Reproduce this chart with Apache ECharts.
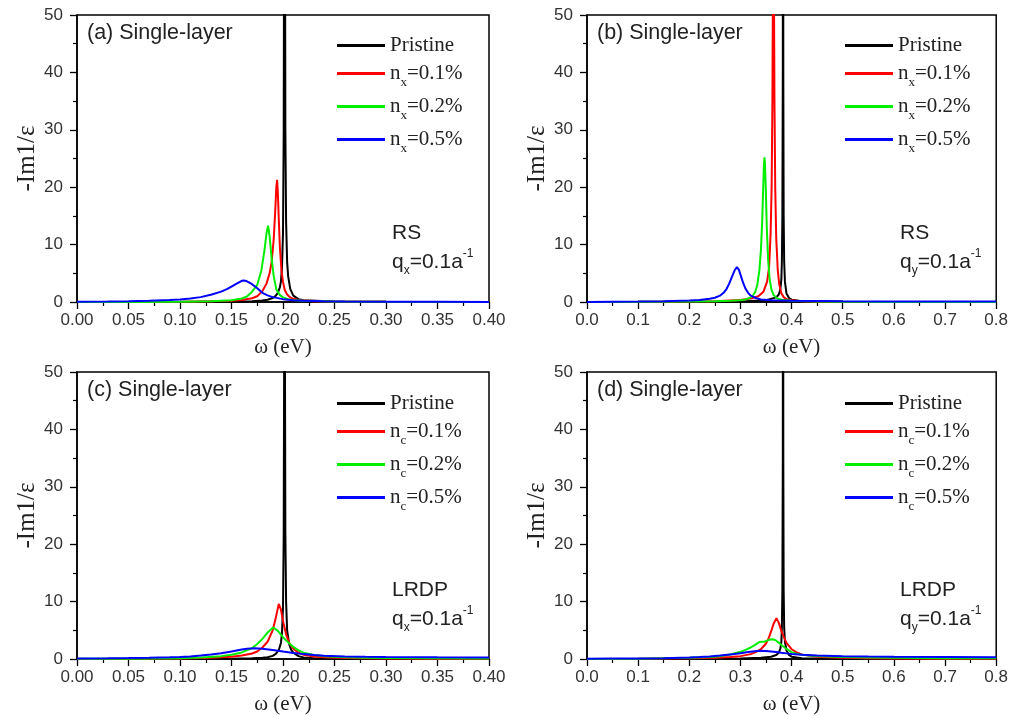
<!DOCTYPE html>
<html><head><meta charset="utf-8">
<script src="https://cdn.jsdelivr.net/npm/echarts@6/dist/echarts.min.js"></script>
<style>html,body{margin:0;padding:0;background:#fff}#c{width:1011px;height:716px}</style>
</head><body><div id="c"></div>
<script>
// ---------- data ----------
const namesXY = ['Pristine', 'n_x=0.1%', 'n_x=0.2%', 'n_x=0.5%'];
const namesC  = ['Pristine', 'n_c=0.1%', 'n_c=0.2%', 'n_c=0.5%'];
const panelTitles = ['(a) Single-layer', '(b) Single-layer', '(c) Single-layer', '(d) Single-layer'];
const panelModels = ['RS', 'RS', 'LRDP', 'LRDP'];
const panelQ = ['x', 'y', 'x', 'y'];

// (a) RS, q_x
const a_pristine = [[0,0],[0.1,0.02],[0.15,0.08],[0.17,0.15],[0.18,0.25],[0.185,0.4],[0.19,0.7],[0.193,1.1],[0.195,1.6],[0.197,2.6],[0.198,3.6],[0.199,6],[0.2,12],[0.2007,30],[0.2012,80],[0.2015,120],[0.2018,80],[0.2023,30],[0.203,14],[0.204,7],[0.205,4.5],[0.207,2.3],[0.21,1.1],[0.215,0.5],[0.22,0.3],[0.25,0.1],[0.3,0.03],[0.4,0.01]];
const a_n01 = [[0,0.01],[0.05,0.02],[0.1,0.05],[0.13,0.12],[0.15,0.22],[0.16,0.35],[0.17,0.65],[0.175,1.0],[0.18,1.9],[0.184,3.2],[0.187,5.0],[0.189,7.0],[0.191,11],[0.1925,16],[0.1935,20],[0.1943,21.3],[0.195,19],[0.196,14],[0.197,9.5],[0.1985,5.5],[0.2,3.5],[0.2017,2.1],[0.204,1.3],[0.207,0.8],[0.21,0.55],[0.215,0.35],[0.22,0.25],[0.23,0.15],[0.25,0.08],[0.3,0.03],[0.4,0.01]];
const a_n02 = [[0,0.01],[0.05,0.02],[0.1,0.05],[0.13,0.12],[0.15,0.3],[0.16,0.6],[0.165,0.95],[0.17,1.8],[0.175,3.0],[0.179,5.5],[0.182,9],[0.184,12],[0.1855,13.3],[0.187,11.5],[0.189,7.5],[0.191,4.5],[0.1935,2.2],[0.197,1.2],[0.2,0.8],[0.205,0.5],[0.21,0.35],[0.22,0.2],[0.25,0.08],[0.3,0.03],[0.4,0.01]];
const a_n05 = [[0,0.05],[0.03,0.1],[0.05,0.15],[0.07,0.22],[0.09,0.35],[0.1,0.45],[0.11,0.6],[0.12,0.85],[0.13,1.25],[0.14,1.8],[0.145,2.2],[0.15,2.7],[0.155,3.2],[0.16,3.7],[0.162,3.75],[0.165,3.6],[0.17,3.1],[0.175,2.4],[0.18,1.6],[0.185,1.15],[0.19,0.85],[0.2,0.5],[0.21,0.32],[0.22,0.22],[0.24,0.13],[0.26,0.08],[0.3,0.05],[0.35,0.03],[0.4,0.02]];

// (b) RS, q_y
const b_pristine = [[0,0],[0.2,0.03],[0.3,0.1],[0.35,0.3],[0.37,0.8],[0.375,1.3],[0.378,2.2],[0.38,4],[0.381,7],[0.382,15],[0.3828,40],[0.3833,120],[0.3838,40],[0.3845,15],[0.3855,7],[0.387,3.5],[0.39,1.5],[0.395,0.7],[0.4,0.4],[0.42,0.15],[0.5,0.04],[0.8,0.01]];
const b_n01 = [[0,0.01],[0.1,0.03],[0.2,0.08],[0.25,0.15],[0.3,0.35],[0.32,0.6],[0.335,1.0],[0.345,1.8],[0.352,3.5],[0.356,6],[0.359,12],[0.361,20],[0.3625,35],[0.3635,55],[0.3645,75],[0.3655,55],[0.3665,35],[0.368,20],[0.37,11],[0.373,5.5],[0.376,3],[0.38,1.5],[0.385,0.8],[0.39,0.5],[0.4,0.3],[0.42,0.15],[0.45,0.08],[0.5,0.04],[0.6,0.02],[0.8,0.01]];
const b_n02 = [[0,0.01],[0.1,0.03],[0.2,0.08],[0.25,0.15],[0.28,0.22],[0.3,0.3],[0.31,0.45],[0.318,0.7],[0.324,1.1],[0.329,1.8],[0.333,3],[0.337,5.5],[0.34,9],[0.3425,14],[0.3445,20],[0.346,24],[0.347,25.2],[0.348,24],[0.3495,20],[0.3515,13],[0.354,7.5],[0.357,4],[0.3605,2.2],[0.365,1.2],[0.372,0.6],[0.38,0.4],[0.39,0.3],[0.4,0.2],[0.45,0.08],[0.5,0.04],[0.6,0.02],[0.8,0.01]];
const b_n05 = [[0,0.02],[0.05,0.04],[0.1,0.07],[0.15,0.12],[0.2,0.25],[0.22,0.35],[0.24,0.55],[0.25,0.75],[0.26,1.1],[0.267,1.6],[0.273,2.3],[0.278,3.2],[0.283,4.3],[0.288,5.4],[0.293,6.1],[0.297,5.6],[0.301,4.5],[0.305,3.4],[0.31,2.3],[0.315,1.6],[0.32,1.1],[0.33,0.7],[0.34,0.45],[0.36,0.3],[0.4,0.2],[0.5,0.12],[0.6,0.1],[0.7,0.08],[0.8,0.07]];

// (c) LRDP, q_x
const c_pristine = [[0,0],[0.1,0.02],[0.15,0.06],[0.17,0.12],[0.18,0.2],[0.185,0.3],[0.19,0.55],[0.193,0.9],[0.196,1.6],[0.198,2.8],[0.199,4.5],[0.2,9],[0.2007,22],[0.2012,60],[0.2015,120],[0.2018,60],[0.2023,22],[0.203,10],[0.204,5],[0.206,2.6],[0.208,1.6],[0.21,1.1],[0.215,0.5],[0.22,0.25],[0.23,0.12],[0.25,0.05],[0.3,0.02],[0.4,0.01]];
const c_n01 = [[0,0.02],[0.05,0.04],[0.1,0.1],[0.13,0.22],[0.15,0.4],[0.16,0.6],[0.17,0.95],[0.175,1.3],[0.18,2.0],[0.185,3.0],[0.19,5.0],[0.193,7.2],[0.1959,9.6],[0.198,8.6],[0.2,6.6],[0.203,4.3],[0.206,2.8],[0.21,1.8],[0.215,1.1],[0.22,0.75],[0.23,0.45],[0.24,0.3],[0.26,0.18],[0.28,0.12],[0.3,0.08],[0.35,0.04],[0.4,0.03]];
const c_n02 = [[0,0.03],[0.05,0.06],[0.1,0.15],[0.12,0.25],[0.14,0.5],[0.15,0.75],[0.16,1.15],[0.17,1.9],[0.175,2.6],[0.18,3.5],[0.185,4.6],[0.1905,5.5],[0.195,4.9],[0.2,3.8],[0.205,2.9],[0.21,2.1],[0.215,1.5],[0.22,1.1],[0.23,0.7],[0.24,0.5],[0.26,0.32],[0.28,0.22],[0.3,0.17],[0.35,0.12],[0.4,0.1]];
const c_n05 = [[0,0.08],[0.03,0.12],[0.05,0.16],[0.07,0.22],[0.09,0.3],[0.1,0.36],[0.11,0.45],[0.12,0.6],[0.13,0.78],[0.14,1.0],[0.15,1.3],[0.16,1.65],[0.165,1.8],[0.172,1.88],[0.18,1.8],[0.19,1.58],[0.2,1.3],[0.21,1.05],[0.22,0.85],[0.23,0.7],[0.24,0.58],[0.26,0.45],[0.28,0.38],[0.3,0.34],[0.35,0.3],[0.4,0.28]];

// (d) LRDP, q_y
const d_pristine = [[0,0],[0.2,0.03],[0.3,0.08],[0.34,0.2],[0.36,0.4],[0.37,0.7],[0.375,1.1],[0.378,1.8],[0.38,3],[0.381,5.5],[0.382,12],[0.3828,35],[0.3833,120],[0.3838,35],[0.3845,12],[0.3855,5.5],[0.387,3],[0.39,1.5],[0.395,0.7],[0.4,0.4],[0.42,0.15],[0.5,0.04],[0.8,0.01]];
const d_n01 = [[0,0.02],[0.1,0.05],[0.2,0.12],[0.25,0.22],[0.28,0.35],[0.3,0.5],[0.32,0.85],[0.33,1.2],[0.34,1.7],[0.35,2.7],[0.355,3.6],[0.36,4.8],[0.365,6.2],[0.3705,7.1],[0.375,6.3],[0.38,4.9],[0.385,3.8],[0.39,2.8],[0.4,1.7],[0.41,1.15],[0.42,0.8],[0.44,0.5],[0.47,0.32],[0.5,0.22],[0.55,0.14],[0.6,0.1],[0.7,0.06],[0.8,0.05]];
const d_n02 = [[0,0.02],[0.1,0.06],[0.2,0.2],[0.24,0.35],[0.26,0.5],[0.28,0.8],[0.3,1.25],[0.31,1.6],[0.32,2.0],[0.33,2.55],[0.337,2.95],[0.342,3.0],[0.346,3.0],[0.352,3.2],[0.358,3.4],[0.362,3.45],[0.368,3.3],[0.375,2.85],[0.382,2.3],[0.39,1.75],[0.4,1.2],[0.41,0.9],[0.42,0.72],[0.44,0.55],[0.47,0.42],[0.5,0.33],[0.55,0.25],[0.6,0.2],[0.7,0.15],[0.8,0.12]];
const d_n05 = [[0,0.05],[0.05,0.07],[0.1,0.1],[0.15,0.15],[0.2,0.25],[0.22,0.33],[0.24,0.45],[0.26,0.6],[0.28,0.8],[0.3,1.0],[0.315,1.2],[0.328,1.35],[0.338,1.42],[0.35,1.38],[0.36,1.3],[0.37,1.2],[0.38,1.08],[0.39,0.98],[0.4,0.88],[0.42,0.74],[0.45,0.6],[0.5,0.48],[0.55,0.42],[0.6,0.38],[0.7,0.33],[0.8,0.3]];

const xMax = [0.4, 0.8, 0.4, 0.8];
const xStep = [0.05, 0.1, 0.05, 0.1];
const xDigits = [2, 1, 2, 1];
const yMax = 50, yStep = 10;

// ---------- chart ----------
const panelData = [
  [a_pristine, a_n01, a_n02, a_n05],
  [b_pristine, b_n01, b_n02, b_n05],
  [c_pristine, c_n01, c_n02, c_n05],
  [d_pristine, d_n01, d_n02, d_n05]
];
const panelNames = [namesXY, namesXY, namesC, namesC];
const colors = ['#000000', '#ff0000', '#00ee00', '#0000ff'];

const grids = [
  {left: 77, top: 15, width: 412, height: 287},
  {left: 587, top: 15, width: 410, height: 287},
  {left: 77, top: 372, width: 412, height: 287},
  {left: 587, top: 372, width: 410, height: 287}
];

const SANS = 'Liberation Sans';
const SERIF = 'Liberation Serif';

function legendFmt(name) {
  if (name.indexOf('_') < 0) return '{m|' + name + '}';
  const parts = name.split('_');
  return '{m|' + parts[0] + '}{s|' + parts[1].charAt(0) + '}{m|' + parts[1].slice(1) + '}';
}

const option = {
  animation: false,
  backgroundColor: '#fff',
  grid: grids.map(g => Object.assign({show: true, borderColor: '#000', borderWidth: 1.5, backgroundColor: 'transparent'}, g)),
  xAxis: grids.map((g, i) => ({
    type: 'value', gridIndex: i, min: 0, max: xMax[i], interval: xStep[i],
    name: 'ω (eV)', nameLocation: 'middle', nameGap: 35,
    nameTextStyle: {fontFamily: SERIF, fontSize: 21, color: '#222'},
    axisLine: {show: true, lineStyle: {color: '#000', width: 1.5}},
    axisTick: {show: true, inside: false, length: 7, lineStyle: {color: '#000', width: 1.3}},
    minorTick: {show: true, splitNumber: 2, length: 4, lineStyle: {color: '#000', width: 1.2}},
    splitLine: {show: false},
    axisLabel: {fontFamily: SANS, fontSize: 17, color: '#333', margin: 10,
      formatter: v => v.toFixed(xDigits[i])}
  })),
  yAxis: grids.map((g, i) => ({
    type: 'value', gridIndex: i, min: 0, max: yMax, interval: yStep,
    name: '-Im1/ε', nameLocation: 'middle', nameGap: 37,
    nameTextStyle: {fontFamily: SERIF, fontSize: 25, color: '#222'},
    axisLine: {show: true, lineStyle: {color: '#000', width: 1.5}},
    axisTick: {show: true, inside: false, length: 7, lineStyle: {color: '#000', width: 1.3}},
    minorTick: {show: true, splitNumber: 2, length: 4, lineStyle: {color: '#000', width: 1.2}},
    splitLine: {show: false},
    axisLabel: {fontFamily: SANS, fontSize: 17, color: '#333', margin: 14}
  })),
  legend: grids.map((g, i) => ({
    data: panelNames[i], orient: 'vertical',
    left: i % 2 === 0 ? 337 : 845, top: i < 2 ? 35 : 393,
    padding: 0, itemGap: 2, itemWidth: 48, itemHeight: 3, icon: 'rect',
    selectedMode: false,
    formatter: legendFmt,
    textStyle: {
      color: '#222',
      rich: {
        m: {fontFamily: SERIF, fontSize: 21, color: '#222', lineHeight: 20, verticalAlign: 'middle'},
        s: {fontFamily: SERIF, fontSize: 13, color: '#222', lineHeight: 12, padding: [18, 0, 0, 0], verticalAlign: 'middle'}
      }
    }
  })),
  series: [],
  graphic: []
};

panelData.forEach((curves, i) => {
  curves.forEach((d, k) => {
    option.series.push({
      type: 'line', name: panelNames[i][k], xAxisIndex: i, yAxisIndex: i,
      data: d, symbol: 'none', showSymbol: false, clip: true,
      lineStyle: {color: colors[k], width: 2}, itemStyle: {color: colors[k]},
      z: 2 + k
    });
  });
  const g = grids[i];
  option.graphic.push({
    type: 'text', x: g.left + 10, y: g.top + 18,
    style: {text: panelTitles[i], font: '21.5px "' + SANS + '"', fill: '#222', verticalAlign: 'middle'}
  });
  const tx = i % 2 === 0 ? 392 : 900;
  option.graphic.push({
    type: 'text', x: tx, y: g.top + 218,
    style: {text: panelModels[i], font: '21px "' + SANS + '"', fill: '#222', verticalAlign: 'middle'}
  });
  option.graphic.push({
    type: 'text', x: tx, y: g.top + 247,
    style: {
      text: '{m|q}{s|' + panelQ[i] + '}{m|=0.1a}{p|-1}',
      verticalAlign: 'middle', fill: '#222',
      rich: {
        m: {fontFamily: SANS, fontSize: 21, fill: '#222', lineHeight: 20, verticalAlign: 'middle'},
        s: {fontFamily: SANS, fontSize: 12, fill: '#222', lineHeight: 12, padding: [18, 0, 0, 0], verticalAlign: 'middle'},
        p: {fontFamily: SANS, fontSize: 12, fill: '#222', lineHeight: 10, padding: [0, 0, 16, 0], verticalAlign: 'middle'}
      }
    }
  });
});

const chart = echarts.init(document.getElementById('c'), null, {renderer: 'canvas'});
chart.setOption(option);
</script>
</body></html>
